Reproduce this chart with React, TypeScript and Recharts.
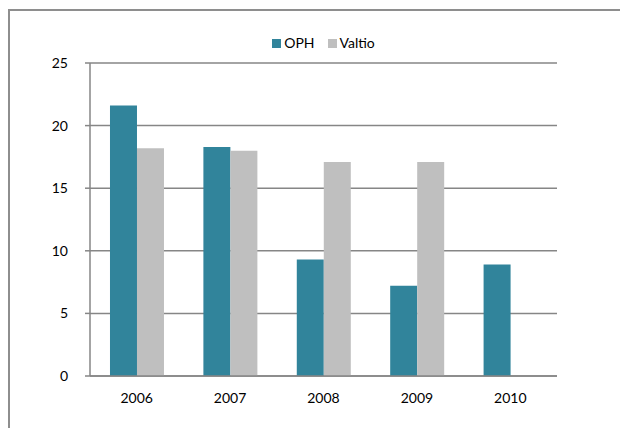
import React from 'react'
import { BarChart, Bar, XAxis, YAxis, CartesianGrid } from 'recharts'

const years = ['2006', '2007', '2008', '2009', '2010']
const oph = [21.6, 18.3, 9.3, 7.2, 8.9]
const valtio: (number | null)[] = [18.2, 18.0, 17.1, 17.1, null]
const yTicks = [0, 5, 10, 15, 20, 25]

const OPH_COLOR = '#31849B'
const VALTIO_COLOR = '#BFBFBF'
const LINE = '#868686'
const FONT = 'Lato, "Open Sans", sans-serif'

const data = years.map((y, i) => ({ year: y, OPH: oph[i], Valtio: valtio[i] }))

function LegendBox() {
  const items = [
    { name: 'OPH', color: OPH_COLOR },
    { name: 'Valtio', color: VALTIO_COLOR },
  ]
  return (
    <div
      style={{
        position: 'absolute',
        left: 90,
        top: 34,
        width: 467,
        display: 'flex',
        justifyContent: 'center',
        gap: 13,
        fontFamily: FONT,
        fontSize: 14,
        lineHeight: '18px',
        color: '#000',
      }}
    >
      {items.map((it) => (
        <span key={it.name} style={{ display: 'inline-flex', alignItems: 'center' }}>
          <span style={{ width: 9, height: 9, background: it.color, marginRight: 3, display: 'inline-block' }} />
          {it.name}
        </span>
      ))}
    </div>
  )
}

export default function App() {
  return (
    <div style={{ position: 'absolute', left: 0, top: 0, width: 620, height: 428, overflow: 'hidden', background: '#fff' }}>
      {/* outer frame, only its top and left edges fall inside the picture */}
      <div
        style={{
          position: 'absolute',
          left: 8,
          top: 9,
          width: 612,
          height: 419,
          borderTop: '2px solid #8e8e8e',
          borderLeft: '2px solid #8e8e8e',
          boxSizing: 'border-box',
        }}
      />
      <div style={{ position: 'absolute', left: 0, top: 0 }}>
        <BarChart
          width={620}
          height={428}
          data={data}
          margin={{ top: 63, right: 63, bottom: 22, left: 0 }}
          barCategoryGap="21.4%"
          barGap={0}
        >
          <CartesianGrid vertical={false} stroke={LINE} strokeWidth={1.5} />
          <XAxis
            dataKey="year"
            height={30}
            axisLine={{ stroke: LINE, strokeWidth: 1.5 }}
            tickLine={false}
            tickSize={6}
            tickMargin={11}
            tick={{ fill: '#000', fontSize: 14, fontFamily: FONT }}
          />
          <YAxis
            width={90}
            domain={[0, 25]}
            ticks={yTicks}
            interval={0}
            axisLine={{ stroke: LINE, strokeWidth: 1.5 }}
            tickLine={{ stroke: LINE, strokeWidth: 1.5 }}
            tickSize={5}
            tickMargin={17}
            tick={{ fill: '#000', fontSize: 14, fontFamily: FONT }}
          />
          <Bar dataKey="OPH" fill={OPH_COLOR} isAnimationActive={false} />
          <Bar dataKey="Valtio" fill={VALTIO_COLOR} isAnimationActive={false} />
        </BarChart>
      </div>
      <LegendBox />
    </div>
  )
}
